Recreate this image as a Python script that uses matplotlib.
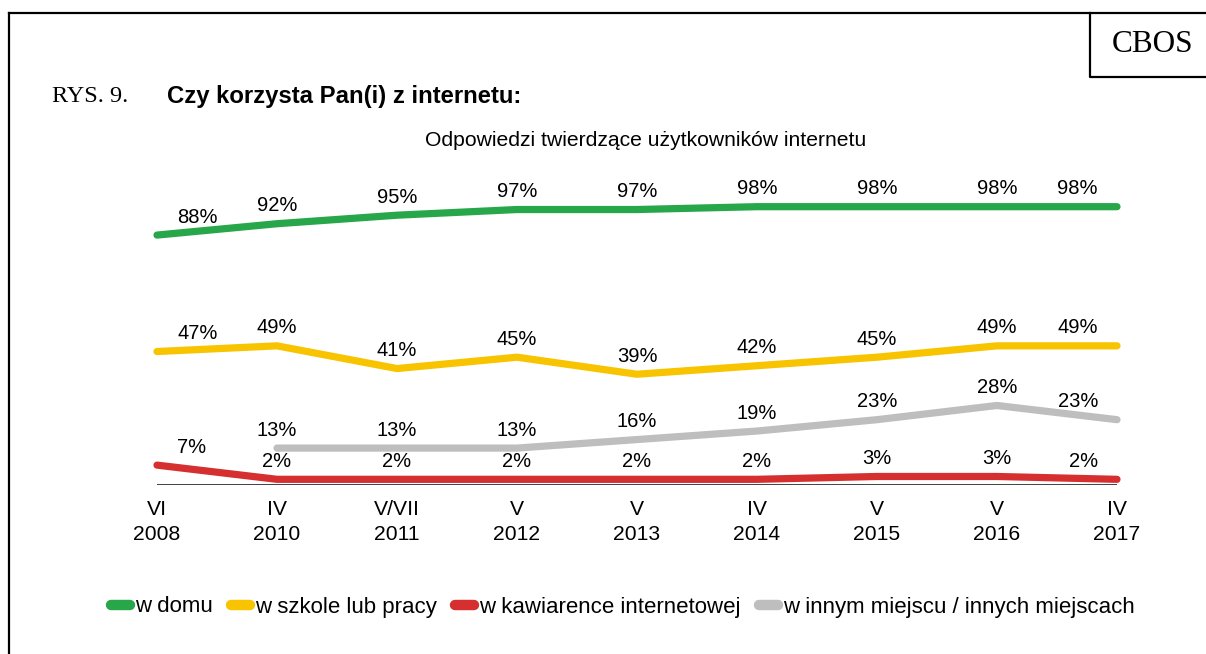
import numpy as np
import matplotlib
matplotlib.use("Agg")
import matplotlib.pyplot as plt
from matplotlib.lines import Line2D

# ── data ────────────────────────────────────────────────────────────────────
periods = ["VI\n2008", "IV\n2010", "V/VII\n2011", "V\n2012", "V\n2013",
           "IV\n2014", "V\n2015", "V\n2016", "IV\n2017"]
w_domu = [88, 92, 95, 97, 97, 98, 98, 98, 98]
w_szkole = [47, 49, 41, 45, 39, 42, 45, 49, 49]
w_kawiarence = [7, 2, 2, 2, 2, 2, 3, 3, 2]
w_innym = [np.nan, 13, 13, 13, 16, 19, 23, 28, 23]

series = [
    ("w domu", w_domu, "#27A74A"),
    ("w szkole lub pracy", w_szkole, "#F8C400"),
    ("w kawiarence internetowej", w_kawiarence, "#D62F2F"),
    ("w innym miejscu / innych miejscach", w_innym, "#BEBEBE"),
]

SANS = "Liberation Sans"
SERIF = "Liberation Serif"
FS_LAB = 14.5   # data labels
FS_TXT = 15.2   # ticks, subtitle
FS_LEG = 16.0

W, H = 1206, 654
fig = plt.figure(figsize=(W / 100, H / 100), dpi=100)

# ── frame + CBOS box ────────────────────────────────────────────────────────
fig.add_artist(Line2D([9 / W, 9 / W], [0, 1 - 13 / H], color="black", lw=1.6,
                      transform=fig.transFigure))
fig.add_artist(Line2D([9 / W, 1], [1 - 13 / H, 1 - 13 / H], color="black", lw=1.6,
                      transform=fig.transFigure))
fig.add_artist(Line2D([1090 / W, 1090 / W, 1], [1 - 13 / H, 1 - 77 / H, 1 - 77 / H],
                      color="black", lw=1.6, transform=fig.transFigure))
fig.text(1153 / W, 1 - 44 / H, "CBOS", family=SERIF, fontsize=22.5,
         ha="center", va="center")

fig.text(52 / W, 1 - 97 / H, "RYS. 9.", family=SERIF, fontsize=17.5,
         ha="left", va="center")
fig.text(167 / W, 1 - 97 / H, "Czy korzysta Pan(i) z internetu:", family=SANS,
         fontsize=17.2, fontweight="bold", ha="left", va="center")
fig.text(646 / W, 1 - 141 / H, "Odpowiedzi twierdzące użytkowników internetu",
         family=SANS, fontsize=FS_TXT, ha="center", va="center")

# ── plot area: x 0..8 -> px 157..1117, y 0..100 -> px 485..201 ──────────────
ax = fig.add_axes([157 / W, (H - 485) / H, 960 / W, 284 / H])
ax.set_xlim(0, len(periods) - 1)
ax.set_ylim(0, 100)
for s in ax.spines.values():
    s.set_visible(False)
ax.set_yticks([])
x = np.arange(len(periods))
ax.set_xticks(x)
ax.set_xticklabels(periods, family=SANS, fontsize=FS_TXT, linespacing=1.4)
ax.tick_params(axis="x", length=0, pad=11)
ax.axhline(0, color="#222222", lw=1.2, zorder=1)

for name, vals, col in series:
    ax.plot(x, vals, color=col, lw=5.2, solid_capstyle="round",
            solid_joinstyle="round", clip_on=False, zorder=3)
    for xi, v in zip(x, vals):
        if np.isnan(v):
            continue
        if xi == 0:
            dx, ha = 20, "left"
        elif xi == len(periods) - 1:
            dx, ha = -19, "right"
        else:
            dx, ha = 0, "center"
        ax.annotate(f"{v:.0f}%", (xi, v), xytext=(dx, 18),
                    textcoords="offset pixels", ha=ha, va="center",
                    family=SANS, fontsize=FS_LAB, annotation_clip=False)

# ── legend ──────────────────────────────────────────────────────────────────
handles = [Line2D([], [], color=col, lw=7.5, solid_capstyle="round")
           for _, _, col in series]
fig.legend(handles, [s[0] for s in series], loc="center",
           bbox_to_anchor=(623 / W, 1 - 607 / H), ncol=4, frameon=False,
           prop={"family": SANS, "size": FS_LEG}, handlelength=0.85,
           handletextpad=0.25, columnspacing=0.8, borderaxespad=0)

fig.savefig("out.png", dpi=100, facecolor="white")
